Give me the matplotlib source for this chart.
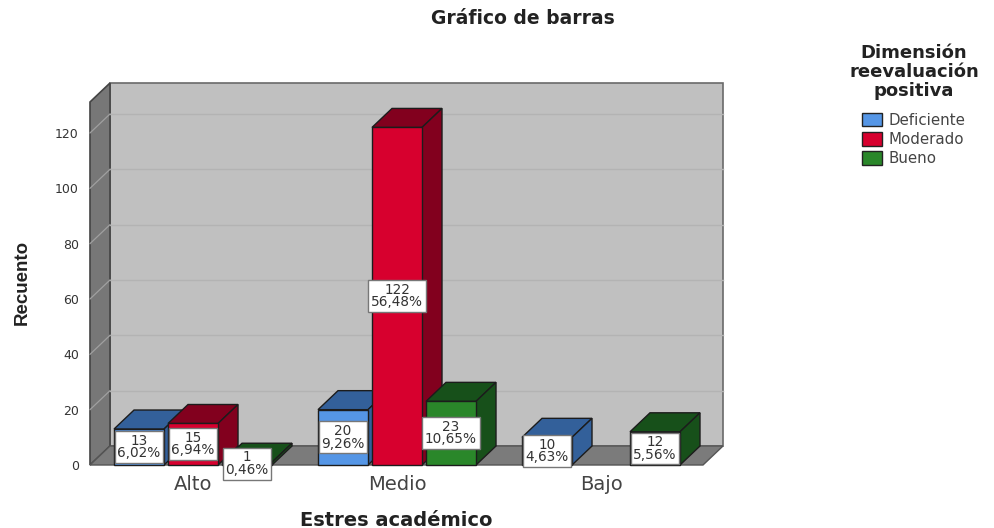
import matplotlib
matplotlib.use("Agg")
import matplotlib.pyplot as plt
from matplotlib.patches import Patch

categories = ["Alto", "Medio", "Bajo"]
series_names = ["Deficiente", "Moderado", "Bueno"]
counts = [
    [13, 20, 10],
    [15, 122, 0],
    [1, 23, 12],
]
percents = [
    ["6,02%", "9,26%", "4,63%"],
    ["6,94%", "56,48%", ""],
    ["0,46%", "10,65%", "5,56%"],
]
y_ticks = [0, 20, 40, 60, 80, 100, 120]

front_colors = ["#5596e6", "#d7002e", "#2a872a"]
side_colors = ["#33609a", "#82001e", "#17501a"]
edge = "#1c1c1c"

W, H = 995, 528
# front plane of the 3d box, in pixels
LEFT, RIGHT, BOTTOM, TOP = 90, 703, 465, 102
PX_PER_COUNT = 2.767
PX_PER_CAT = 204.0
DX = 20 / PX_PER_CAT
DY = 19 / PX_PER_COUNT
BAR_W = 50 / PX_PER_CAT
OFFSETS = [-54 / PX_PER_CAT, 0, 54 / PX_PER_CAT]

plt.rcParams["font.family"] = ["DejaVu Sans"]

fig = plt.figure(figsize=(W / 100, H / 100), dpi=100)
ax = fig.add_axes([LEFT / W, 1 - BOTTOM / H, (RIGHT - LEFT) / W, (BOTTOM - TOP) / H])
x0, x1 = -0.505, 2.5
y1 = (BOTTOM - TOP) / PX_PER_COUNT
ax.set_xlim(x0, x1)
ax.set_ylim(0, y1)
for s in ax.spines.values():
    s.set_visible(False)

# walls
ax.fill([x0 + DX, x1 + DX, x1 + DX, x0 + DX], [DY, DY, y1 + DY, y1 + DY],
        color="#c0c0c0", ec="#6a6a6a", lw=1.2, clip_on=False, zorder=1)
ax.fill([x0, x0 + DX, x0 + DX, x0], [0, DY, y1 + DY, y1],
        color="#777777", ec="#444444", lw=1.2, clip_on=False, zorder=1)
ax.fill([x0, x1, x1 + DX, x0 + DX], [0, 0, DY, DY],
        color="#7b7b7b", ec="#555555", lw=1.0, clip_on=False, zorder=1)

for t in y_ticks[1:]:
    ax.plot([x0 + DX, x1 + DX], [t + DY, t + DY], color="#b3b3b3", lw=1.0,
            clip_on=False, zorder=2)
    ax.plot([x0, x0 + DX], [t, t + DY], color="#a0a0a0", lw=0.9, clip_on=False, zorder=2)

z = 3
for c in range(len(categories)):
    for s in range(len(series_names)):
        v = counts[s][c]
        if v == 0:
            continue
        left = c + OFFSETS[s] - BAR_W / 2
        right = left + BAR_W
        # top and side faces
        ax.fill([left, right, right + DX, left + DX], [v, v, v + DY, v + DY],
                color=side_colors[s], ec=edge, lw=1.0, clip_on=False, zorder=z)
        ax.fill([right, right + DX, right + DX, right], [0, DY, v + DY, v],
                color=side_colors[s], ec=edge, lw=1.0, clip_on=False, zorder=z)
        ax.bar(c + OFFSETS[s], v, width=BAR_W, color=front_colors[s], edgecolor=edge,
               linewidth=1.0, zorder=z, clip_on=False)
        z += 1

for c in range(len(categories)):
    for s in range(len(series_names)):
        v = counts[s][c]
        if v == 0:
            continue
        ax.text(c + OFFSETS[s], v / 2, f"{v}\n{percents[s][c]}", ha="center", va="center",
                fontsize=9.8, color="#333333", linespacing=0.85, zorder=50, clip_on=False,
                bbox=dict(boxstyle="square,pad=0.2", fc="white", ec="#777777", lw=1.0))

ax.set_xticks(range(len(categories)), categories)
ax.set_yticks(y_ticks)
ax.tick_params(axis="x", length=0, pad=7, labelsize=14, labelcolor="#444444")
ax.tick_params(axis="y", length=0, pad=8, labelsize=9, labelcolor="#333333")

fig.text(523 / W, 1 - 19 / H, "Gráfico de barras", ha="center", va="center",
         fontsize=13.5, fontweight="bold", color="#222222")
fig.text(396 / W, 1 - 520 / H, "Estres académico", ha="center", va="center",
         fontsize=14, fontweight="bold", color="#222222")
fig.text(22 / W, 1 - 282 / H, "Recuento", ha="center", va="center", rotation=90,
         fontsize=13.5, fontweight="bold", color="#222222", family="Liberation Sans")

handles = [Patch(facecolor=front_colors[i], edgecolor="#222222", label=series_names[i])
           for i in range(len(series_names))]
leg = fig.legend(handles=handles, title="Dimensión\nreevaluación\npositiva",
                 loc="upper center", bbox_to_anchor=(914 / W, 1 - 30 / H), frameon=False,
                 fontsize=10.8, labelspacing=0.28, handlelength=1.3, handleheight=1.0,
                 handletextpad=0.45, labelcolor="#444444",
                 title_fontproperties={"weight": "bold", "size": 13})
leg.get_title().set_linespacing(1.1)
leg.get_title().set_color("#222222")
leg.get_title().set_ha("center")
leg.set_alignment("center")
leg._legend_box.sep = 9

fig.savefig("out.png", dpi=100)
plt.close(fig)
